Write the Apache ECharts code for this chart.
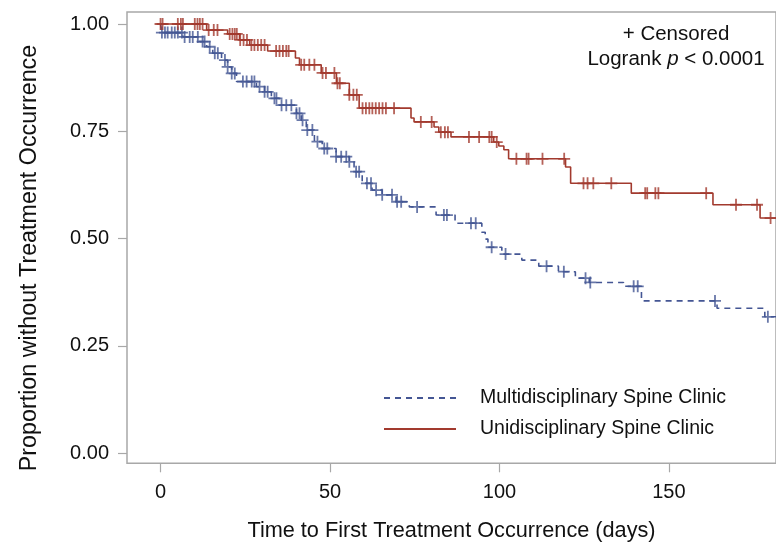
<!DOCTYPE html>
<html><head><meta charset="utf-8">
<script src="https://cdn.jsdelivr.net/npm/echarts@6/dist/echarts.min.js"></script>
<style>html,body{margin:0;padding:0;background:#fff}#c{width:776px;height:549px}</style>
</head><body><div id="c"></div>
<script>
const seriesNames = ['Multidisciplinary Spine Clinic', 'Unidisciplinary Spine Clinic'];
const xTicks = [0, 50, 100, 150];
const yTicks = [0, 0.25, 0.5, 0.75, 1];
const xEnd = 181.6;

// Multidisciplinary (blue, dashed): event times and survival after each
const blueTimes = [0, 0.3, 6.6, 11.6, 13.6, 15.4, 18, 19.8, 21, 22.4, 28.3, 30.7, 32.7, 35, 40.1, 41.5, 43, 45.4, 47.7, 51.8, 55.7, 57.1, 59.5, 62.4, 65.4, 69.5, 73.4, 81.3, 86.9, 94.8, 95.8, 96.6, 100.7, 106.6, 111.6, 117.4, 122.4, 126.5, 136.6, 141.9, 164.2, 178.3];
const blueSurv  = [1.0, 0.980, 0.970, 0.959, 0.947, 0.932, 0.916, 0.900, 0.885, 0.866, 0.854, 0.842, 0.827, 0.811, 0.792, 0.776, 0.753, 0.726, 0.710, 0.691, 0.679, 0.656, 0.629, 0.613, 0.602, 0.586, 0.574, 0.555, 0.536, 0.515, 0.499, 0.480, 0.464, 0.450, 0.436, 0.423, 0.408, 0.398, 0.389, 0.355, 0.338, 0.318];
const blueCensor = [0.4, 1.3, 2.1, 3.3, 4.2, 5.1, 6.3, 7.1, 8.6, 9.5, 11, 12.4, 13, 14.5, 16, 16.9, 19, 19.8, 21, 21.9, 24.3, 25.4, 26.9, 27.7, 29.2, 30.7, 31.6, 33.6, 34.2, 35.7, 37.1, 38.6, 40.1, 41, 41.9, 43.3, 44.8, 46.3, 48.3, 49.2, 51.8, 53.3, 54.8, 55.7, 57.7, 58.6, 60.9, 62.1, 63.6, 65.4, 68.3, 69.8, 71, 75.7, 83.6, 84.5, 91.6, 93, 97.7, 101.8, 113.9, 119, 125.4, 126.8, 139.6, 140.8, 163.6, 179.2];

// Unidisciplinary (red, solid)
const redTimes = [0, 13.6, 19.8, 23.3, 26.3, 31.6, 39.8, 41, 47.4, 51.9, 55.7, 58.6, 73.9, 74.8, 80.7, 82.1, 85.7, 98.3, 99.8, 101.3, 102.7, 119.5, 121, 138.9, 163, 176.9];
const redSurv  = [1.0, 0.986, 0.977, 0.963, 0.951, 0.937, 0.921, 0.905, 0.886, 0.862, 0.835, 0.804, 0.781, 0.772, 0.760, 0.748, 0.737, 0.725, 0.716, 0.707, 0.686, 0.667, 0.629, 0.606, 0.579, 0.548];
const redCensor = [0, 0.6, 5.1, 6, 6.6, 10.1, 10.9, 11.6, 12.4, 14.2, 15.7, 16.8, 20.4, 21.2, 21.9, 22.5, 23.5, 24.5, 25.5, 26.8, 27.7, 28.7, 29.7, 30.7, 34.1, 35.1, 36.1, 37.1, 37.8, 41.5, 42.4, 43.9, 45.4, 47.8, 48.8, 51.3, 52.2, 52.9, 55.7, 56.9, 57.9, 59.6, 60.6, 61.6, 62.5, 63.5, 64.5, 65.5, 66.5, 68.9, 76.8, 80, 82.7, 83.9, 84.8, 91, 94, 97, 97.7, 99.2, 105, 108, 108.6, 112.7, 119.1, 124.8, 126, 127.7, 133, 143, 143.6, 146, 146.9, 161, 169.8, 176, 180];

const BLUE = '#445694', RED = '#A23A2E';
const FONT = '"Liberation Sans", Arial, sans-serif';
const PLUS = 'path://M5.1,0 L6.9,0 L6.9,5.1 L12,5.1 L12,6.9 L6.9,6.9 L6.9,12 L5.1,12 L5.1,6.9 L0,6.9 L0,5.1 L5.1,5.1 Z';

function stepData(times, surv) {
  const d = times.map((t, i) => [t, surv[i]]);
  d.push([xEnd, surv[surv.length - 1]]);
  return d;
}
function survAt(times, surv, t) {
  let s = surv[0];
  for (let i = 0; i < times.length; i++) if (times[i] <= t) s = surv[i];
  return s;
}
function censorData(ct, times, surv) { return ct.map(t => [t, survAt(times, surv, t)]); }

const chart = echarts.init(document.getElementById('c'), null, {renderer: 'canvas'});
chart.setOption({
  animation: false,
  backgroundColor: '#fff',
  textStyle: {fontFamily: FONT},
  grid: {left: 127, top: 12, bottom: 85.7, right: -2, show: true, borderColor: '#a8a8a8', borderWidth: 1.5, containLabel: false},
  xAxis: {
    type: 'value', min: -9.9, max: xEnd,
    name: 'Time to First Treatment Occurrence (days)', nameLocation: 'middle', nameGap: 57,
    nameTextStyle: {fontSize: 21.7, color: '#111', fontFamily: FONT},
    axisLine: {show: false, onZero: false},
    axisTick: {show: true, inside: false, length: 9, customValues: xTicks, lineStyle: {color: '#a8a8a8', width: 1.2}},
    axisLabel: {customValues: xTicks, margin: 19, fontSize: 20, color: '#111', fontFamily: FONT},
    splitLine: {show: false}
  },
  yAxis: {
    type: 'value', min: -0.0233, max: 1.028,
    axisLine: {show: false, onZero: false},
    axisTick: {show: true, inside: false, length: 9, customValues: yTicks, lineStyle: {color: '#a8a8a8', width: 1.2}},
    axisLabel: {customValues: yTicks, margin: 18, fontSize: 20, color: '#111', fontFamily: FONT, formatter: v => v.toFixed(2)},
    splitLine: {show: false}
  },
  legend: {
    data: seriesNames, orient: 'vertical', left: 378, top: 383,
    itemWidth: 72, itemHeight: 20, itemGap: 11,
    itemStyle: {opacity: 0},
    textStyle: {fontSize: 19.5, color: '#111', fontFamily: FONT, padding: [0, 0, 0, 19]}
  },
  graphic: [
    {type: 'text', x: 30, y: 258, rotation: Math.PI / 2,
      style: {text: 'Proportion without Treatment Occurrence', font: '23.3px "Liberation Sans", Arial, sans-serif', fill: '#111', textAlign: 'center', textVerticalAlign: 'middle'}},
    {type: 'text', x: 676, y: 24, style: {text: '+ Censored', font: '20.5px "Liberation Sans", Arial, sans-serif', fill: '#111', textAlign: 'center'}},
    {type: 'text', x: 676, y: 49, style: {text: '{n|Logrank }{i|p}{n| < 0.0001}', textAlign: 'center', fill: '#111',
      rich: {n: {fontSize: 20.5, fontFamily: FONT, fill: '#111'}, i: {fontSize: 20.5, fontFamily: FONT, fontStyle: 'italic', fill: '#111'}}}}
  ],
  series: [
    {name: seriesNames[0], type: 'line', step: 'end', symbol: 'none', data: stepData(blueTimes, blueSurv),
      lineStyle: {color: BLUE, width: 1.6, type: [6, 5]}, itemStyle: {color: BLUE}, z: 3},
    {name: seriesNames[1], type: 'line', step: 'end', symbol: 'none', data: stepData(redTimes, redSurv),
      lineStyle: {color: RED, width: 1.6}, itemStyle: {color: RED}, z: 3},
    {name: 'Multi censored', type: 'scatter', symbol: PLUS, symbolSize: 12, data: censorData(blueCensor, blueTimes, blueSurv),
      itemStyle: {color: BLUE}, z: 4},
    {name: 'Uni censored', type: 'scatter', symbol: PLUS, symbolSize: 12, data: censorData(redCensor, redTimes, redSurv),
      itemStyle: {color: RED}, z: 4}
  ]
});
</script></body></html>
